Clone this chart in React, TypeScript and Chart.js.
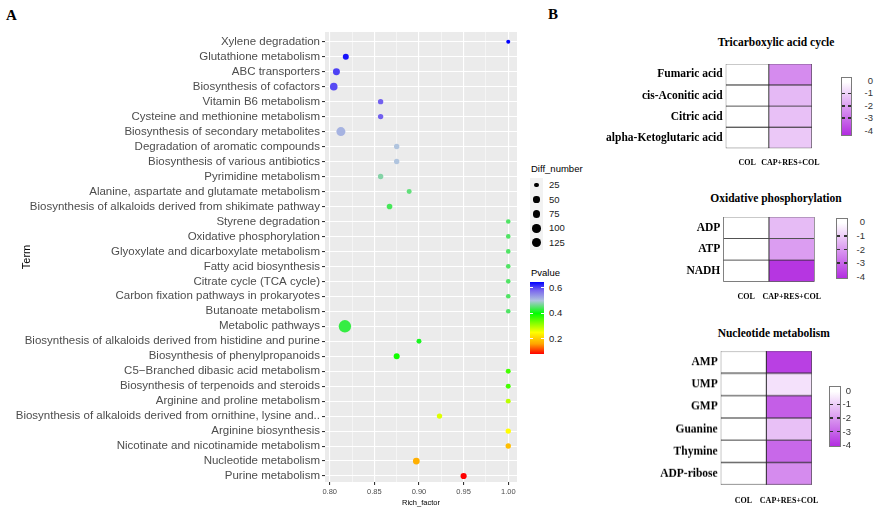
import React, { useEffect, useRef } from 'react';
import { Chart, registerables } from 'chart.js';

Chart.register(...registerables);

// ---------- Panel A data ----------
const terms = [
  'Xylene degradation',
  'Glutathione metabolism',
  'ABC transporters',
  'Biosynthesis of cofactors',
  'Vitamin B6 metabolism',
  'Cysteine and methionine metabolism',
  'Biosynthesis of secondary metabolites',
  'Degradation of aromatic compounds',
  'Biosynthesis of various antibiotics',
  'Pyrimidine metabolism',
  'Alanine, aspartate and glutamate metabolism',
  'Biosynthesis of alkaloids derived from shikimate pathway',
  'Styrene degradation',
  'Oxidative phosphorylation',
  'Glyoxylate and dicarboxylate metabolism',
  'Fatty acid biosynthesis',
  'Citrate cycle (TCA cycle)',
  'Carbon fixation pathways in prokaryotes',
  'Butanoate metabolism',
  'Metabolic pathways',
  'Biosynthesis of alkaloids derived from histidine and purine',
  'Biosynthesis of phenylpropanoids',
  'C5\u2212Branched dibasic acid metabolism',
  'Biosynthesis of terpenoids and steroids',
  'Arginine and proline metabolism',
  'Biosynthesis of alkaloids derived from ornithine, lysine and..',
  'Arginine biosynthesis',
  'Nicotinate and nicotinamide metabolism',
  'Nucleotide metabolism',
  'Purine metabolism',
];
const richFactor = [
  1.0, 0.818, 0.8075, 0.8045, 0.857, 0.857, 0.8125, 0.875, 0.875, 0.857,
  0.889, 0.867, 1.0, 1.0, 1.0, 1.0, 1.0, 1.0, 1.0, 0.817,
  0.9, 0.875, 1.0, 1.0, 1.0, 0.923, 1.0, 1.0, 0.897, 0.95,
];
const diffNumber = [
  18, 46, 65, 79, 36, 36, 114, 36, 36, 36,
  30, 40, 25, 25, 25, 25, 25, 25, 25, 226,
  30, 46, 30, 30, 30, 36, 36, 36, 61, 50,
];
const pValue = [
  0.647, 0.635, 0.605, 0.6, 0.585, 0.585, 0.515, 0.5, 0.5, 0.475,
  0.455, 0.44, 0.445, 0.445, 0.445, 0.445, 0.445, 0.445, 0.445, 0.43,
  0.415, 0.39, 0.36, 0.36, 0.29, 0.27, 0.25, 0.185, 0.17, 0.08,
];
const xMajorTicks = [0.8, 0.85, 0.9, 0.95, 1.0];
const xMinorTicks = [0.825, 0.875, 0.925, 0.975];
const sizeBreaks = [25, 50, 75, 100, 125];
const pBreaks = [0.6, 0.4, 0.2];
const pColorStops: [number, string][] = [
  [0.08, '#ff0000'],
  [0.16, '#ffa500'],
  [0.25, '#ffff00'],
  [0.4, '#00ff00'],
  [0.5, '#b0c4de'],
  [0.58, '#7b68ee'],
  [0.647, '#0000ff'],
];

// ---------- Panel B data ----------
const heatColumns = ['COL', 'CAP+RES+COL'];
const heatLegendTicks = [0, -1, -2, -3, -4];
const tcaRows = ['Fumaric acid', 'cis-Aconitic acid', 'Citric acid', 'alpha-Ketoglutaric acid'];
const tcaCOL = [0, 0, 0, 0];
const tcaTreat = [-2.3, -1.4, -1.25, -1.1];
const oxRows = ['ADP', 'ATP', 'NADH'];
const oxCOL = [0, 0, 0];
const oxTreat = [-1.35, -1.95, -4.0];
const nucRows = ['AMP', 'UMP', 'GMP', 'Guanine', 'Thymine', 'ADP-ribose'];
const nucCOL = [0, 0, 0, 0, 0, 0];
const nucTreat = [-3.8, -0.6, -3.2, -1.25, -3.0, -2.3];

const SANS = '"Liberation Sans", Arial, Helvetica, sans-serif';
const SERIF = '"Liberation Serif", "Times New Roman", Times, serif';

// ---------- helpers ----------
function hexToRgb(h: string) {
  const n = parseInt(h.slice(1), 16);
  return [(n >> 16) & 255, (n >> 8) & 255, n & 255];
}
function mix(a: number[], b: number[], t: number) {
  return a.map((v, i) => Math.round(v + (b[i] - v) * t));
}
function pColor(p: number) {
  const s = pColorStops;
  if (p <= s[0][0]) return s[0][1];
  for (let i = 1; i < s.length; i++) {
    if (p <= s[i][0]) {
      const t = (p - s[i - 1][0]) / (s[i][0] - s[i - 1][0]);
      const c = mix(hexToRgb(s[i - 1][1]), hexToRgb(s[i][1]), t);
      return `rgb(${c[0]},${c[1]},${c[2]})`;
    }
  }
  return s[s.length - 1][1];
}
const pMin = Math.min(...pValue);
const pMax = Math.max(...pValue);
function radius(n: number) {
  return 0.36 + 0.388 * Math.sqrt(n);
}
const HEAT_LOW = -4.2;
const HEAT_WHITE = [255, 255, 255];
const HEAT_PURPLE = [178, 44, 224];
function heatColor(v: number) {
  const t = Math.max(0, Math.min(1, -v / -HEAT_LOW));
  const c = mix(HEAT_WHITE, HEAT_PURPLE, t);
  return `rgb(${c[0]},${c[1]},${c[2]})`;
}

function ChartCanvas({ left, top, width, height, make }: any) {
  const ref = useRef<HTMLCanvasElement>(null);
  useEffect(() => {
    const chart = new Chart(ref.current as HTMLCanvasElement, make());
    return () => chart.destroy();
  }, []);
  return (
    <canvas
      ref={ref}
      width={width}
      height={height}
      style={{ position: 'absolute', left, top, width, height }}
    />
  );
}

function Txt({ x, y, children, size, family = SANS, weight = 'normal', color = '#000', align = 'left' }: any) {
  const tx = align === 'center' ? '-50%' : align === 'right' ? '-100%' : '0';
  return (
    <div
      style={{
        position: 'absolute',
        left: x,
        top: y,
        transform: `translate(${tx}, -50%)`,
        fontSize: size,
        fontFamily: family,
        fontWeight: weight,
        color,
        whiteSpace: 'nowrap',
        lineHeight: 1,
      }}
    >
      {children}
    </div>
  );
}

// ---------- Panel A chart ----------
const A_W = 525;
const A_H = 509;
const A_PLOT = { left: 325, right: 517, top: 32, bottom: 482 };

const bgPlugin = {
  id: 'panelBg',
  beforeDraw(chart: any) {
    const { ctx, chartArea } = chart;
    ctx.save();
    ctx.fillStyle = '#ebebeb';
    ctx.fillRect(chartArea.left, chartArea.top, chartArea.right - chartArea.left, chartArea.bottom - chartArea.top);
    ctx.restore();
  },
};

const isMajor = (v: number) => xMajorTicks.some((m) => Math.abs(m - v) < 1e-6);

function makeBubble() {
  const allX = [...xMajorTicks, ...xMinorTicks].sort((a, b) => a - b);
  return {
    type: 'bubble',
    data: {
      datasets: [
        {
          data: terms.map((_, i) => ({ x: richFactor[i], y: i, r: radius(diffNumber[i]) })),
          backgroundColor: pValue.map(pColor),
          borderWidth: 0,
        },
      ],
    },
    options: {
      animation: false,
      responsive: false,
      devicePixelRatio: 1,
      layout: { padding: { top: A_PLOT.top, right: A_W - A_PLOT.right, left: 0, bottom: 0 } },
      plugins: { legend: { display: false }, tooltip: { enabled: false } },
      scales: {
        x: {
          type: 'linear',
          min: 0.7947,
          max: 1.0098,
          afterBuildTicks: (s: any) => {
            s.ticks = allX.map((v) => ({ value: v }));
          },
          afterFit: (s: any) => {
            s.height = A_H - A_PLOT.bottom;
          },
          border: { display: false },
          grid: {
            color: '#ffffff',
            lineWidth: (c: any) => (c.tick && isMajor(c.tick.value) ? 1.1 : 0.5),
            tickColor: (c: any) => (c.tick && isMajor(c.tick.value) ? '#333333' : 'rgba(0,0,0,0)'),
            tickLength: 3,
          },
          ticks: {
            autoSkip: false,
            maxRotation: 0,
            minRotation: 0,
            padding: 2.5,
            color: '#4d4d4d',
            font: { family: SANS, size: 7.5 },
            callback: (v: number) => (isMajor(v) ? v.toFixed(2) : ''),
          },
          title: {
            display: true,
            text: 'Rich_factor',
            color: '#000',
            font: { family: SANS, size: 7.5 },
            padding: { top: 0, bottom: 2 },
          },
        },
        y: {
          type: 'linear',
          min: -0.65,
          max: 29.4,
          reverse: true,
          afterBuildTicks: (s: any) => {
            s.ticks = terms.map((_, i) => ({ value: i }));
          },
          afterFit: (s: any) => {
            s.width = A_PLOT.left;
          },
          border: { display: false },
          grid: { color: '#ffffff', lineWidth: 1.1, tickColor: '#333333', tickLength: 3 },
          ticks: {
            autoSkip: false,
            padding: 2,
            color: '#4d4d4d',
            font: { family: SANS, size: 11.5 },
            callback: (v: number) => terms[v],
          },
          title: {
            display: true,
            text: 'Term',
            color: '#000',
            font: { family: SANS, size: 11 },
            padding: { top: 20, bottom: 0 },
          },
        },
      },
    },
    plugins: [bgPlugin],
  };
}

// ---------- Panel A legends ----------
function SizeLegend() {
  const keyTop = 178;
  const keyH = 14.4;
  return (
    <>
      <Txt x={531} y={169} size={9.5}>Diff_number</Txt>
      <div style={{ position: 'absolute', left: 530, top: keyTop, width: 13, height: keyH * sizeBreaks.length, background: '#f2f2f2' }} />
      {sizeBreaks.map((b, i) => {
        const r = radius(b);
        const cy = keyTop + keyH * (i + 0.5);
        return (
          <React.Fragment key={b}>
            <div
              style={{
                position: 'absolute',
                left: 536.5 - r,
                top: cy - r,
                width: 2 * r,
                height: 2 * r,
                borderRadius: '50%',
                background: '#000',
              }}
            />
            <Txt x={549} y={cy} size={9.5} color="#1a1a1a">{b}</Txt>
          </React.Fragment>
        );
      })}
    </>
  );
}

function PLegend() {
  const top = 281.7;
  const h = 72.6;
  const left = 530;
  const w = 14;
  const yOf = (p: number) => top + ((pMax - p) / (pMax - pMin)) * h;
  const stops = [...pColorStops]
    .reverse()
    .map(([p, c]) => `${c} ${(((pMax - p) / (pMax - pMin)) * 100).toFixed(2)}%`)
    .join(', ');
  return (
    <>
      <Txt x={531} y={273} size={9.5}>Pvalue</Txt>
      <div style={{ position: 'absolute', left, top, width: w, height: h, background: `linear-gradient(to bottom, ${stops})` }} />
      {pBreaks.map((p) => (
        <React.Fragment key={p}>
          <div style={{ position: 'absolute', left, top: yOf(p) - 0.5, width: 3, height: 1, background: '#fff' }} />
          <div style={{ position: 'absolute', left: left + w - 3, top: yOf(p) - 0.5, width: 3, height: 1, background: '#fff' }} />
          <Txt x={549} y={yOf(p)} size={9.5} color="#1a1a1a">{p.toFixed(1)}</Txt>
        </React.Fragment>
      ))}
    </>
  );
}

// ---------- Panel B heatmaps ----------
function makeHeat(rows: string[], colVals: number[], treatVals: number[], g: any, canvas: any, colLabelY: number) {
  return () => ({
    type: 'bar',
    data: {
      labels: rows,
      datasets: [
        {
          data: colVals.map(() => 1),
          backgroundColor: colVals.map(heatColor),
        },
        {
          data: treatVals.map(() => 1),
          backgroundColor: treatVals.map(heatColor),
        },
      ].map((d) => ({
        ...d,
        borderColor: '#2b2b2b',
        borderWidth: 0.8,
        borderSkipped: false,
        barPercentage: 1,
        categoryPercentage: 1,
      })),
    },
    options: {
      indexAxis: 'y',
      animation: false,
      responsive: false,
      devicePixelRatio: 1,
      layout: { padding: { top: g.top - canvas.top, right: canvas.left + canvas.width - g.right, left: 0, bottom: 0 } },
      plugins: { legend: { display: false }, tooltip: { enabled: false } },
      scales: {
        x: {
          type: 'linear',
          stacked: true,
          min: 0,
          max: heatColumns.length,
          afterBuildTicks: (s: any) => {
            s.ticks = heatColumns.map((_, i) => ({ value: i + 0.5 }));
          },
          afterFit: (s: any) => {
            s.height = canvas.top + canvas.height - g.bottom;
          },
          grid: { display: false, drawTicks: false },
          border: { display: false },
          ticks: {
            autoSkip: false,
            maxRotation: 0,
            minRotation: 0,
            padding: colLabelY - g.bottom - 4.8,
            color: '#000',
            font: { family: SERIF, size: 8, weight: 'bold' },
            callback: (v: number) => heatColumns[Math.floor(v)],
          },
        },
        y: {
          stacked: true,
          afterFit: (s: any) => {
            s.width = g.left - canvas.left;
          },
          grid: { display: false, drawTicks: false },
          border: { display: false },
          ticks: {
            autoSkip: false,
            padding: 3,
            color: '#000',
            font: { family: SERIF, size: 11.5, weight: 'bold' },
          },
        },
      },
    },
  });
}

function HeatLegend({ left, top, width, height, y0, unit, labelRight }: any) {
  const vTop = (y0 - top) / unit;
  const vBot = -(top + height - y0) / unit;
  const pos = (v: number) => (((vTop - v) / (vTop - vBot)) * 100).toFixed(2) + '%';
  const grad = `linear-gradient(to bottom, ${heatColor(vTop)} 0%, ${heatColor(0)} ${pos(0)}, ${heatColor(vBot)} 100%)`;
  return (
    <>
      <div
        style={{
          position: 'absolute',
          left,
          top,
          width,
          height,
          background: grad,
          boxSizing: 'border-box',
          border: '1px solid #7a7a7a',
        }}
      />
      {heatLegendTicks.map((v) => {
        const y = y0 - v * unit;
        return (
          <React.Fragment key={v}>
            {v !== 0 && v !== -4 && (
              <>
                <div style={{ position: 'absolute', left: left + 1, top: y - 0.75, width: 3, height: 1.5, background: '#333' }} />
                <div style={{ position: 'absolute', left: left + width - 4, top: y - 0.75, width: 3, height: 1.5, background: '#333' }} />
              </>
            )}
            <Txt x={labelRight} y={y} size={9.5} color="#333" align="right">{v === 0 ? '0' : String(v)}</Txt>
          </React.Fragment>
        );
      })}
    </>
  );
}

function Heatmap({ rows, colVals, treatVals, g, colLabelY, title, titleX, titleY, legend }: any) {
  const canvas = { left: 600, top: g.top - 8, width: g.right + 14 - 600, height: colLabelY + 8 - (g.top - 8) };
  return (
    <>
      <Txt x={titleX} y={titleY} size={11.5} family={SERIF} weight="bold" align="center">{title}</Txt>
      <ChartCanvas
        left={canvas.left}
        top={canvas.top}
        width={canvas.width}
        height={canvas.height}
        make={makeHeat(rows, colVals, treatVals, g, canvas, colLabelY)}
      />
      <HeatLegend {...legend} />
    </>
  );
}

export default function App() {
  return (
    <div
      style={{
        position: 'fixed',
        left: 0,
        top: 0,
        width: 880,
        height: 509,
        background: '#fff',
        overflow: 'hidden',
      }}
    >
      <Txt x={6} y={14.5} size={15} family={SERIF} weight="bold">A</Txt>
      <Txt x={548} y={14} size={15} family={SERIF} weight="bold">B</Txt>
      <ChartCanvas left={0} top={0} width={A_W} height={A_H} make={makeBubble} />
      <SizeLegend />
      <PLegend />
      <Heatmap
        rows={tcaRows}
        colVals={tcaCOL}
        treatVals={tcaTreat}
        g={{ left: 725.7, right: 819.3, top: 61.7, bottom: 148.3 }}
        colLabelY={163}
        title="Tricarboxylic acid cycle"
        titleX={776}
        titleY={43}
        legend={{ left: 841, top: 76.7, width: 10.7, height: 59.3, y0: 81, unit: 12.4, labelRight: 873 }}
      />
      <Heatmap
        rows={oxRows}
        colVals={oxCOL}
        treatVals={oxTreat}
        g={{ left: 723.3, right: 821, top: 215, bottom: 281.7 }}
        colLabelY={297}
        title="Oxidative phosphorylation"
        titleX={776}
        titleY={199}
        legend={{ left: 835.7, top: 218.3, width: 12.6, height: 60.7, y0: 222.3, unit: 13.6, labelRight: 865 }}
      />
      <Heatmap
        rows={nucRows}
        colVals={nucCOL}
        treatVals={nucTreat}
        g={{ left: 720.7, right: 819.3, top: 349.3, bottom: 485 }}
        colLabelY={501}
        title="Nucleotide metabolism"
        titleX={773.7}
        titleY={334}
        legend={{ left: 829, top: 386, width: 11.7, height: 61.3, y0: 390.7, unit: 13.6, labelRight: 851 }}
      />
    </div>
  );
}
